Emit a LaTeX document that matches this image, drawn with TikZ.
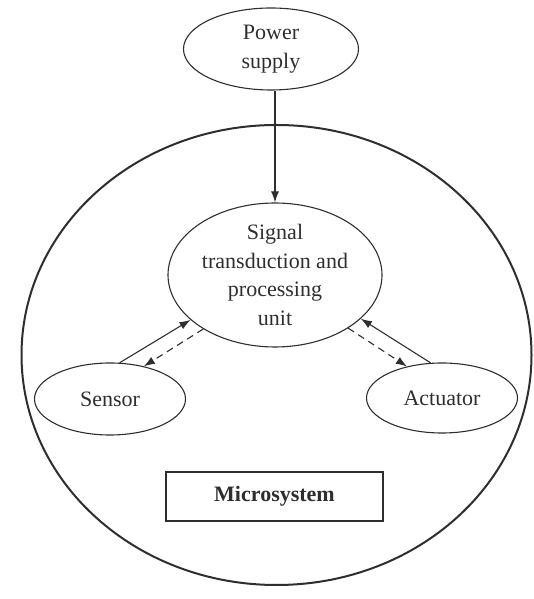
\documentclass[tikz,border=0pt]{standalone}
\usepackage{fontspec}
\setmainfont{Liberation Serif}
\usetikzlibrary{shapes.geometric,arrows.meta}
\definecolor{ink}{HTML}{2E2E2E}
\begin{document}
\begin{tikzpicture}[x=1pt,y=1pt,
  every node/.style={text=ink, font=\fontsize{22}{28.5}\selectfont},
  oval/.style={draw=ink, line width=1.1pt, ellipse, inner sep=0pt, align=center},
  conn/.style={draw=ink, line width=1.1pt, -{Latex[length=11pt,width=8pt]}},
  dconn/.style={conn, dash pattern=on 7pt off 5pt}]
\useasboundingbox (0,0) rectangle (533,599);
% microsystem boundary
\draw[ink, line width=2pt] (276.5,244) ellipse (255 and 230);
\node[oval, minimum width=175pt, minimum height=82pt] (ps) at (271,550) {Power\\supply};
\node[oval, minimum width=214pt, minimum height=144pt] (sig) at (275,324) {Signal\\transduction and\\processing\\unit};
\node[oval, minimum width=151pt, minimum height=72pt] (sen) at (110,200) {Sensor};
\node[oval, minimum width=151pt, minimum height=70pt] (act) at (442,201) {Actuator};
\node[draw=ink, line width=1.8pt, minimum width=217pt, minimum height=49pt, font=\fontsize{22}{28.5}\selectfont\bfseries] (ms) at (274.5,102.5) {Microsystem};
% connectors
\draw[conn] (sig.north |- ps.south) -- (sig.north);
\draw[conn] (sen.75) -- (sig.208);
\draw[dconn] (sig.217) -- (sen.44);
\draw[conn] (act.108) -- (sig.333);
\draw[dconn] (sig.324) -- (act.138);
\end{tikzpicture}
\end{document}
